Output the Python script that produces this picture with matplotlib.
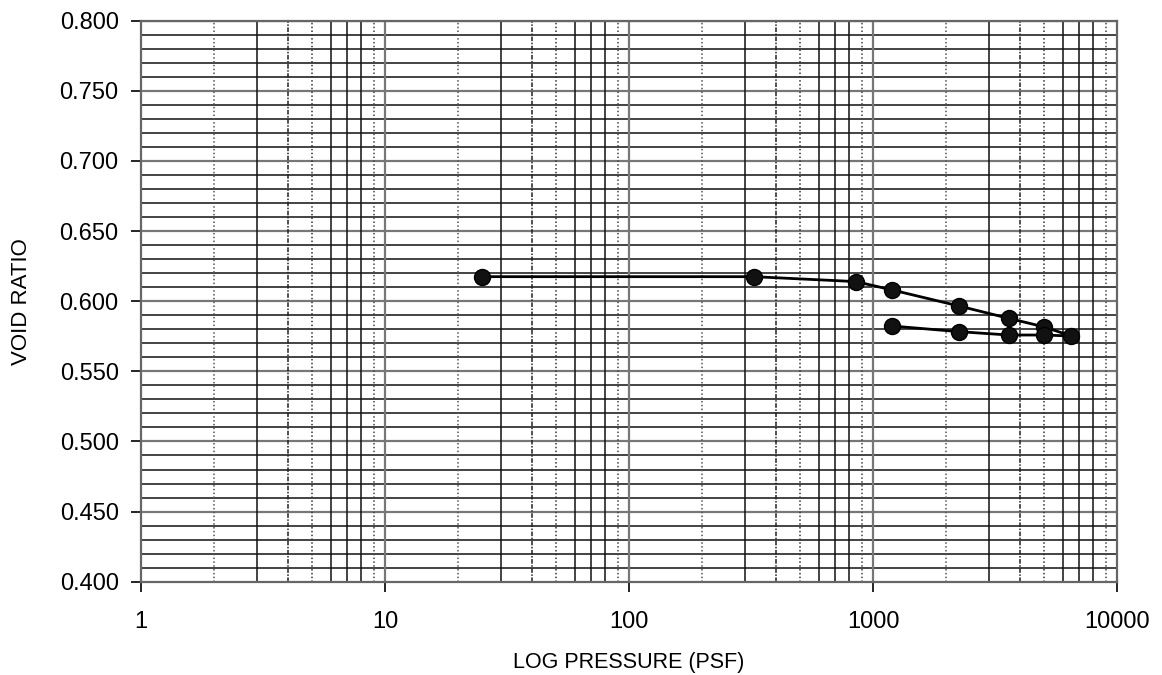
import matplotlib
matplotlib.use('Agg')
import matplotlib.pyplot as plt
import numpy as np

plt.rcParams['font.family'] = ['Liberation Sans', 'DejaVu Sans']

# consolidation test points, loading then unloading
pressure = [25, 325, 850, 1200, 2250, 3600, 5000, 6500, 5000, 3600, 2250, 1200]
void_ratio = [0.6175, 0.6175, 0.614, 0.608, 0.5966, 0.5878, 0.5818, 0.5752,
              0.5759, 0.5759, 0.5783, 0.5823]

x_ticks = [1, 10, 100, 1000, 10000]
x_tick_labels = ['1', '10', '100', '1000', '10000']
y_ticks = [0.400, 0.450, 0.500, 0.550, 0.600, 0.650, 0.700, 0.750, 0.800]

fig = plt.figure(figsize=(11.62, 6.75), dpi=100)
ax = fig.add_axes([0.1213, 0.1382, 0.8400, 0.8311])

ax.set_xscale('log')
ax.set_xlim(1, 10000)
ax.set_ylim(0.400, 0.800)

# horizontal grid every 0.01, a bit greyer on the 0.05 lines
for v in np.arange(0.41, 0.80, 0.01):
    if abs(round(v / 0.05) * 0.05 - v) < 1e-6:
        ax.axhline(v, color='#777777', lw=1.6, zorder=1)
    else:
        ax.axhline(v, color='#111111', lw=1.1, zorder=1)

# vertical grid, mixed styles like the printed log paper
styles = {2: ((0, (1, 1.5)), '#555555'), 3: ('-', '#111111'), 4: ((0, (3, 1, 1, 1)), '#222222'),
          5: ((0, (1, 1.5)), '#333333'), 6: ('-', '#111111'), 7: ('-', '#111111'),
          8: ('-', '#111111'), 9: ((0, (1, 1.5)), '#444444')}
for dec in [1, 10, 100, 1000]:
    for m in range(2, 10):
        ls, col = styles[m]
        ax.axvline(dec * m, color=col, ls=ls, lw=1.1, zorder=1)
for dec in [10, 100, 1000]:
    ax.axvline(dec, color='#777777', lw=1.6, zorder=1)

ax.plot(pressure, void_ratio, color='black', lw=2.0, marker='o', markersize=11.5,
        markerfacecolor='#111111', markeredgecolor='black', zorder=3)

ax.set_xticks(x_ticks)
ax.set_xticklabels(x_tick_labels)
ax.xaxis.set_minor_locator(matplotlib.ticker.NullLocator())
ax.set_yticks(y_ticks)
ax.set_yticklabels(['%.3f' % v for v in y_ticks])

ax.tick_params(axis='x', direction='out', length=7, width=1.2, pad=14, labelsize=17)
ax.tick_params(axis='y', direction='out', length=7, width=1.2, pad=9, labelsize=17)

for s in ax.spines.values():
    s.set_color('#666666')
    s.set_linewidth(1.6)

ax.set_xlabel('LOG PRESSURE (PSF)', fontsize=15.5, labelpad=14)
ax.set_ylabel('VOID RATIO', fontsize=16, labelpad=20)

fig.savefig('out.png', dpi=100)
